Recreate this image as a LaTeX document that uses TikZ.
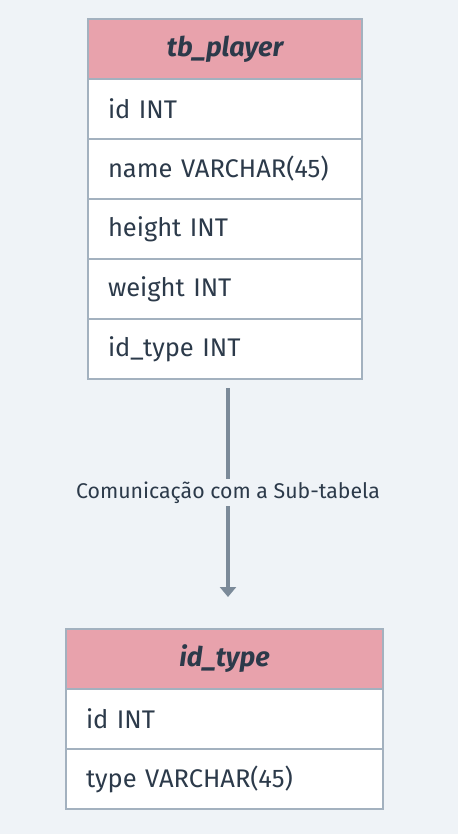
\documentclass[tikz,border=0pt]{standalone}
\usepackage{fontspec}
\setmainfont{Fira Sans}
\usetikzlibrary{arrows.meta}

\definecolor{bgcol}{HTML}{EFF3F7}
\definecolor{headcol}{HTML}{E8A2AC}
\definecolor{linecol}{HTML}{A3B1BF}
\definecolor{inkcol}{HTML}{2C3A4A}
\definecolor{flowcol}{HTML}{7B8A99}

\begin{document}
\begin{tikzpicture}[x=1pt,y=1pt,
    tabhead/.style={draw=linecol, line width=2pt, fill=headcol, text=inkcol,
      minimum height=60pt, inner sep=0pt,
      font=\fontsize{27}{30}\selectfont\bfseries\itshape},
    tabrow/.style={draw=linecol, line width=2pt, fill=white, text=inkcol,
      minimum height=60pt, inner ysep=0pt, inner xsep=20pt, align=left,
      font=\fontsize{25.5}{29}\selectfont},
    flow/.style={draw=flowcol, line width=4pt, -{Triangle[length=10pt,width=16pt]}}]
    \fill[bgcol] (0,0) rectangle (458,-834);

    % table tb_player
    \node[tabhead, minimum width=274pt] (pHead) at (225,-49) {tb\_player};
    \node[tabrow, text width=234pt] (pId) at (225,-109) {id INT};
    \node[tabrow, text width=234pt] (pName) at (225,-169) {name VARCHAR(45)};
    \node[tabrow, text width=234pt] (pHeight) at (225,-229) {height INT};
    \node[tabrow, text width=234pt] (pWeight) at (225,-289) {weight INT};
    \node[tabrow, text width=234pt] (pType) at (225,-349) {id\_type INT};

    % table id_type
    \node[tabhead, minimum width=317pt] (tHead) at (224.5,-659) {id\_type};
    \node[tabrow, text width=277pt] (tId) at (224.5,-719) {id INT};
    \node[tabrow, text width=277pt] (tType) at (224.5,-779) {type VARCHAR(45)};

    % link
    \coordinate (linkA) at (228,-388);
    \coordinate (linkB) at (228,-597);
    \draw[flow] (linkA) -- (linkB)
      node[midway, fill=bgcol, text=inkcol, inner sep=3pt,
        font=\fontsize{21.3}{24}\selectfont] (linkLabel) {Comunicação com a Sub-tabela};
\end{tikzpicture}
\end{document}
